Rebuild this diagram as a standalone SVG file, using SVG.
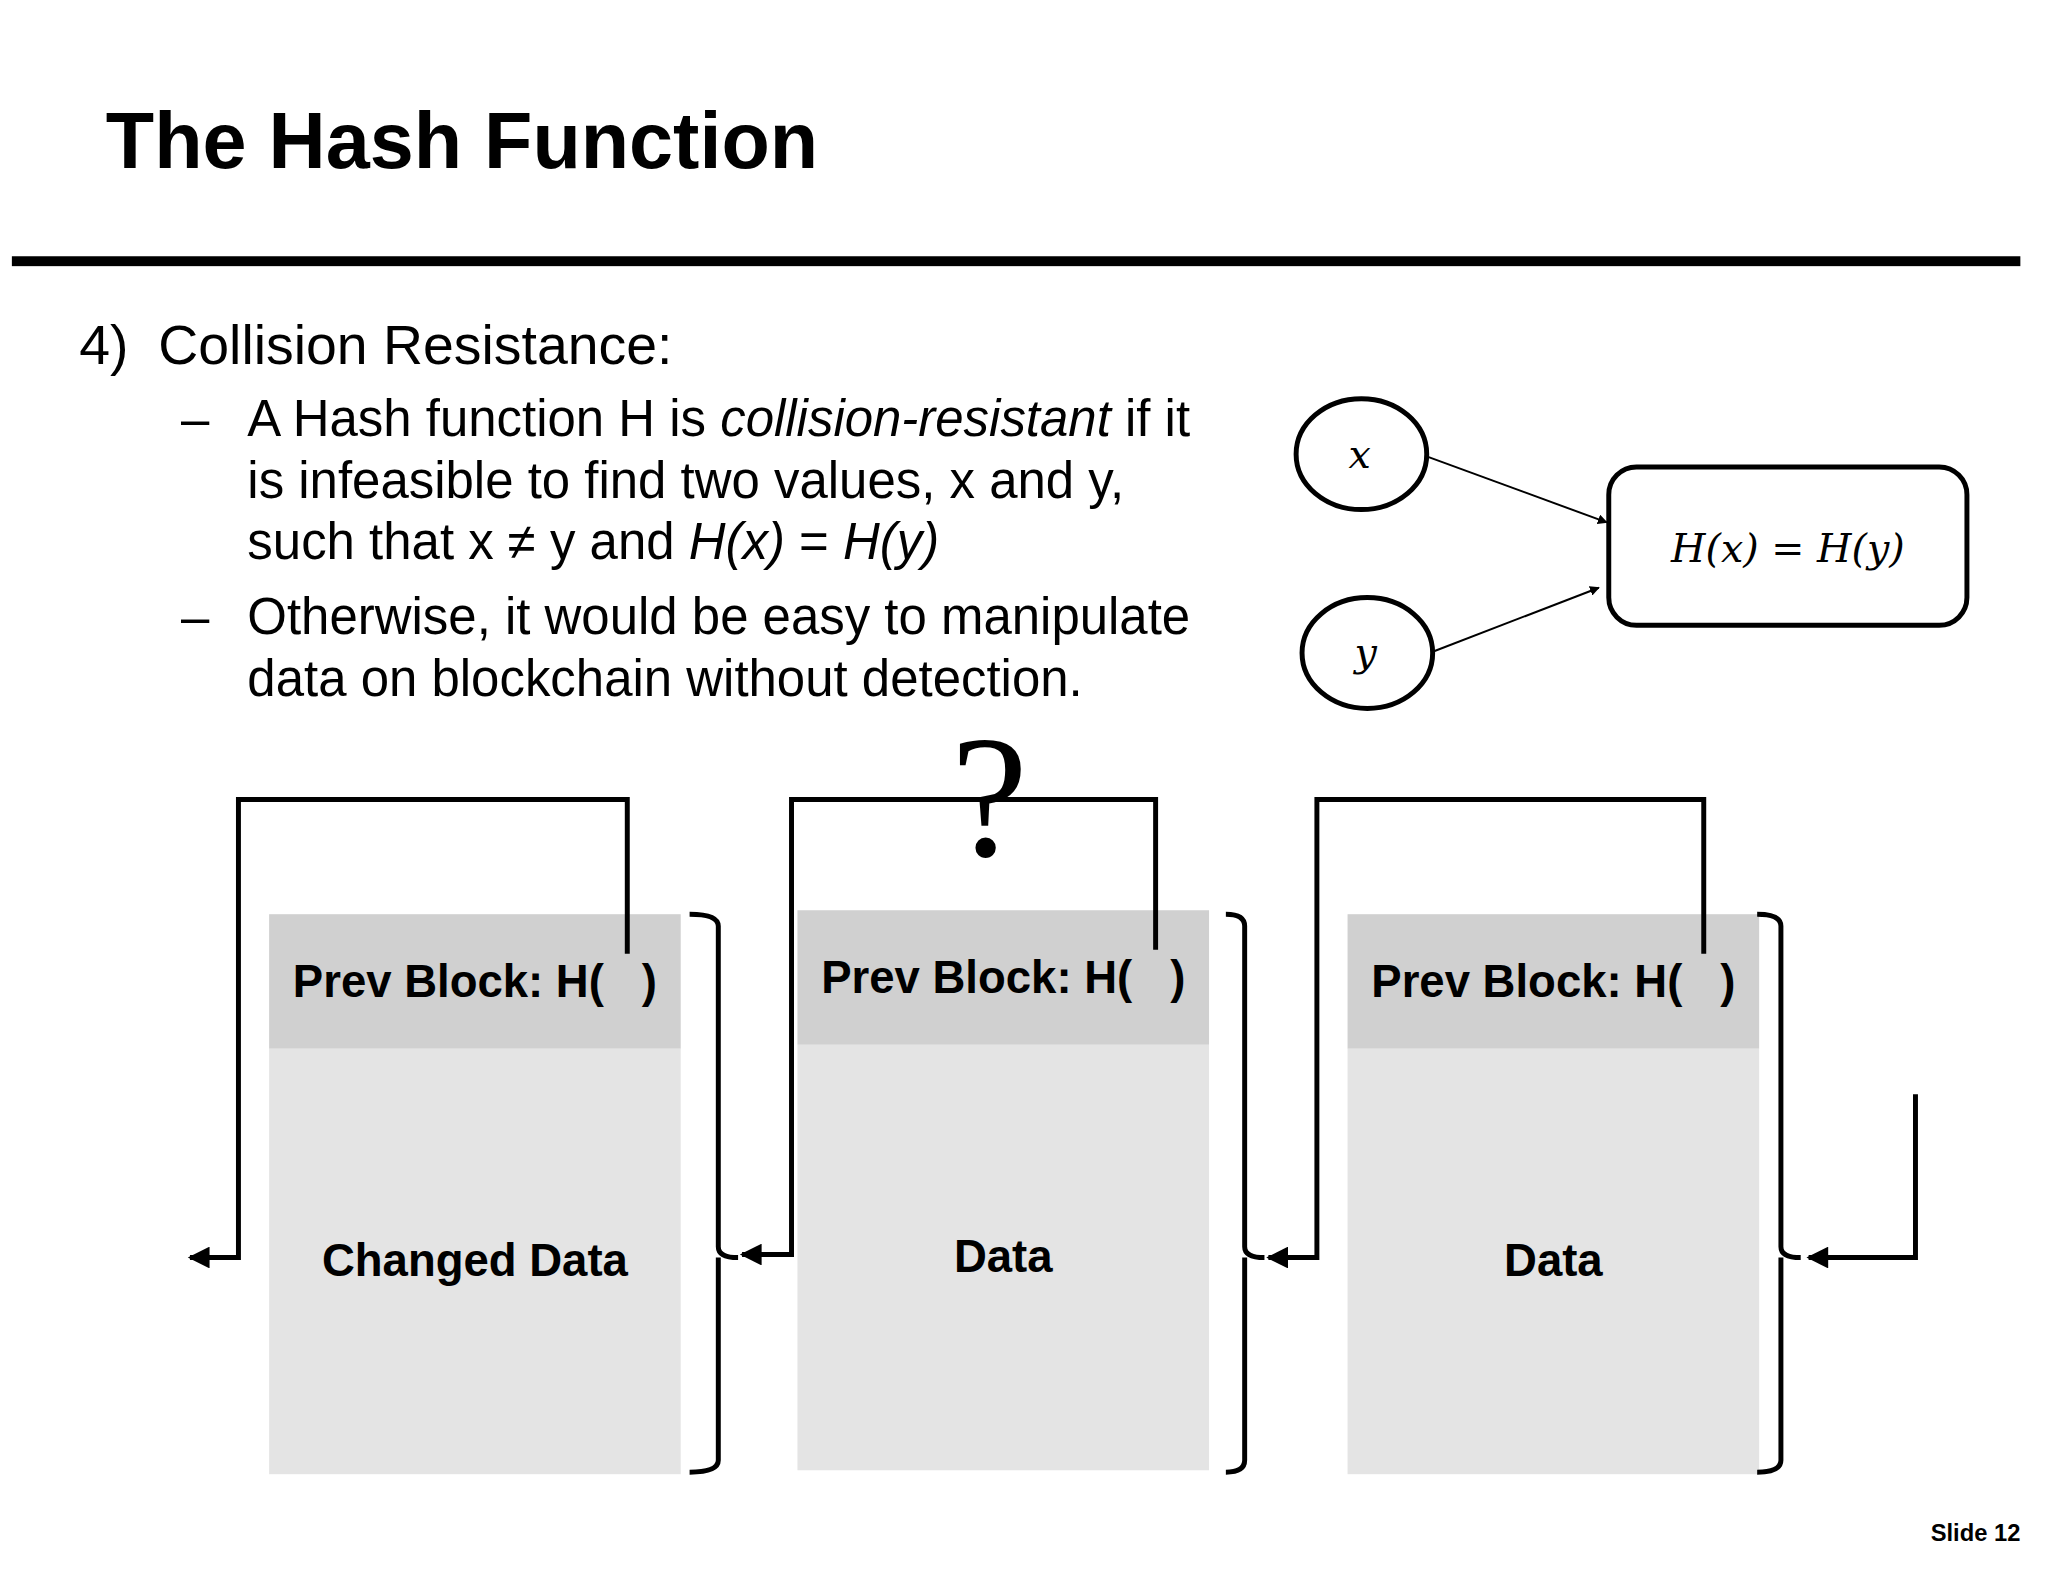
<svg xmlns="http://www.w3.org/2000/svg" width="2048" height="1582" viewBox="0 0 2048 1582">
<defs>
<marker id="a" viewBox="0 0 10 10" refX="9" refY="5" markerWidth="10" markerHeight="10" markerUnits="userSpaceOnUse" orient="auto"><path d="M0,0L10,5L0,10z" fill="#000"/></marker>
<marker id="b" viewBox="0 0 10 10" refX="9" refY="5" markerWidth="28" markerHeight="22" markerUnits="userSpaceOnUse" orient="auto"><path d="M0,0L10,5L0,10z" fill="#000"/></marker>
</defs>
<style>
text{font-family:"Liberation Sans",Arial,sans-serif;fill:#000}
.b{font-size:51.5px}
.m{font-family:"DejaVu Serif","Liberation Serif",serif;font-style:italic;font-size:40px}
.h{font-weight:bold;font-size:46px}
.line{fill:none;stroke:#000;stroke-width:5}
.thin{fill:none;stroke:#000;stroke-width:2}
</style>
<rect width="2048" height="1582" fill="#fff"/>
<g transform="scale(0.9894)">
<text x="107" y="170" font-size="80" font-weight="bold">The Hash Function</text>
<rect x="12" y="259" width="2030" height="10" fill="#000"/>
<text x="80" y="368" font-size="56">4)</text>
<text x="160" y="368" font-size="56">Collision Resistance:</text>
<text class="b" x="183" y="441">–</text>
<text class="b" x="250" y="441">A Hash function H is <tspan font-style="italic">collision-resistant</tspan> if it</text>
<text class="b" x="250" y="503">is infeasible to find two values, x and y,</text>
<text class="b" x="250" y="565">such that x ≠ y and <tspan font-style="italic">H(x)</tspan> = <tspan font-style="italic">H(y)</tspan></text>
<text class="b" x="183" y="641">–</text>
<text class="b" x="250" y="641">Otherwise, it would be easy to manipulate</text>
<text class="b" x="250" y="703">data on blockchain without detection.</text>
<g id="nx"><ellipse cx="1376" cy="459" rx="66" ry="56" fill="#fff" stroke="#000" stroke-width="5"/><text class="m" x="1363" y="473">x</text></g>
<g id="ny"><ellipse cx="1382" cy="660" rx="66" ry="56" fill="#fff" stroke="#000" stroke-width="5"/><text class="m" x="1369" y="673">y</text></g>
<g id="nh"><rect x="1626" y="472" width="362" height="160" rx="28" fill="#fff" stroke="#000" stroke-width="5"/><text class="m" x="1807" y="568" text-anchor="middle">H(x) = H(y)</text></g>
<g id="q"><text x="1000" y="865" style="font-family:'Liberation Serif',serif;font-size:175px" text-anchor="middle">?</text></g>
<g id="b1"><rect x="272" y="924" width="416" height="136" fill="#d0d0d0"/><rect x="272" y="1060" width="416" height="430" fill="#e4e4e4"/><text class="h" x="480" y="1008" text-anchor="middle" xml:space="preserve">Prev Block: H(   )</text><text class="h" x="480" y="1290" text-anchor="middle">Changed Data</text></g>
<g id="b2"><rect x="806" y="920" width="416" height="136" fill="#d0d0d0"/><rect x="806" y="1056" width="416" height="430" fill="#e4e4e4"/><text class="h" x="1014" y="1004" text-anchor="middle" xml:space="preserve">Prev Block: H(   )</text><text class="h" x="1014" y="1286" text-anchor="middle">Data</text></g>
<g id="b3"><rect x="1362" y="924" width="416" height="136" fill="#d0d0d0"/><rect x="1362" y="1060" width="416" height="430" fill="#e4e4e4"/><text class="h" x="1570" y="1008" text-anchor="middle" xml:space="preserve">Prev Block: H(   )</text><text class="h" x="1570" y="1290" text-anchor="middle">Data</text></g>
<g id="connectors">
<line class="thin" x1="1444" y1="462" x2="1624" y2="528" marker-end="url(#a)"/>
<line class="thin" x1="1450" y1="658" x2="1616" y2="594" marker-end="url(#a)"/>
<path class="line" d="M634,964V808H241V1271H192" marker-end="url(#b)"/>
<path class="line" d="M1168,960V808H800V1268H750" marker-end="url(#b)"/>
<path class="line" d="M1722,964V808H1331V1271H1282" marker-end="url(#b)"/>
<path class="line" d="M1936,1106V1271H1828" marker-end="url(#b)"/>
<path class="line" d="M697,924Q726,924 726,936V1260Q726,1271 746,1271M726,1271V1476Q726,1488 697,1488"/>
<path class="line" d="M1239,924Q1258,924 1258,936V1260Q1258,1271 1278,1271M1258,1271V1476Q1258,1488 1239,1488"/>
<path class="line" d="M1776,924Q1800,924 1800,936V1260Q1800,1271 1820,1271M1800,1271V1476Q1800,1488 1776,1488"/>
</g>
<text x="2042" y="1558" font-size="24" font-weight="bold" text-anchor="end">Slide 12</text>
</g>
</svg>
